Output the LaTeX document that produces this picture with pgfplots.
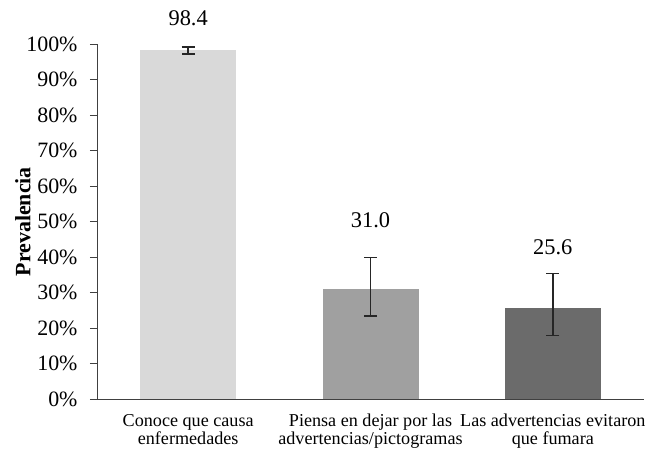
\documentclass[border=0pt]{standalone}
\usepackage{pgfplots}
\pgfplotsset{compat=1.18}
\usepackage{fontspec}
\setmainfont{Liberation Serif}
\definecolor{barA}{HTML}{D9D9D9}
\definecolor{barB}{HTML}{A0A0A0}
\definecolor{barC}{HTML}{6B6B6B}
\definecolor{errc}{HTML}{262626}
\definecolor{axc}{HTML}{404040}
\begin{document}
\begin{tikzpicture}
\begin{axis}[
  name=ax,
  scale only axis,
  width=547bp, height=355bp,
  xmin=-0.5, xmax=2.5, ymin=0, ymax=100,
  clip=false,
  axis x line=bottom, axis y line=left,
  axis line style={draw=axc, line width=1pt, -},
  tick style={draw=axc, line width=1pt},
  tick align=outside,
  ytick={0,10,...,100},
  yticklabel={\pgfmathprintnumber{\tick}\%},
  major tick length=7bp,
  /pgf/number format/assume math mode=true,
  yticklabel style={font=\fontsize{22}{26}\selectfont, xshift=-9bp},
  xtick={0,1,2},
  xticklabels={{Conoce que causa\\enfermedades},{Piensa en dejar por las\\advertencias/pictogramas},{Las advertencias evitaron\\que fumara}},
  xtick style={draw=none},
  minor xtick={-0.5,0.5,1.5,2.5},
  minor tick length=5bp,
  minor tick style={draw=axc, line width=1pt},
  xticklabel style={font=\fontsize{18.2}{18}\selectfont, align=center, yshift=-4.5bp},
  ylabel={Prevalencia},
  ylabel style={font=\bfseries\fontsize{22}{26}\selectfont, at={(axis description cs:0,0.5)}, anchor=center, yshift=74bp},
]
\addplot[ybar, bar width=96bp, bar shift=0pt, fill=barA, draw=none,
  error bars/.cd, y dir=both, y explicit,
  error bar style={draw=errc, line width=1.6pt},
  error mark options={rotate=90, mark size=6.5bp, line width=1.6pt, draw=errc}]
  coordinates {(0,98.4) += (0,0.8) -= (0,1.1)};
\addplot[ybar, bar width=96bp, bar shift=0pt, fill=barB, draw=none,
  error bars/.cd, y dir=both, y explicit,
  error bar style={draw=errc, line width=1.6pt},
  error mark options={rotate=90, mark size=6.5bp, line width=1.6pt, draw=errc}]
  coordinates {(1,31.0) += (0,9.0) -= (0,7.6)};
\addplot[ybar, bar width=96bp, bar shift=0pt, fill=barC, draw=none,
  error bars/.cd, y dir=both, y explicit,
  error bar style={draw=errc, line width=1.6pt},
  error mark options={rotate=90, mark size=6.5bp, line width=1.6pt, draw=errc}]
  coordinates {(2,25.6) += (0,9.8) -= (0,7.6)};
\addplot[draw=none, mark=none, nodes near coords, point meta=explicit symbolic,
  nodes near coords style={anchor=base, inner sep=0pt, font=\fontsize{22.5}{26}\selectfont, text=black}]
  coordinates {(0,105.2) [98.4] (1,48.3) [31.0] (2,40.8) [25.6]};
\end{axis}
\pgfresetboundingbox
\path[use as bounding box] ([shift={(-97bp,-50.7bp)}]ax.south west) rectangle ([shift={(3bp,44.3bp)}]ax.north east);
\end{tikzpicture}
\end{document}
